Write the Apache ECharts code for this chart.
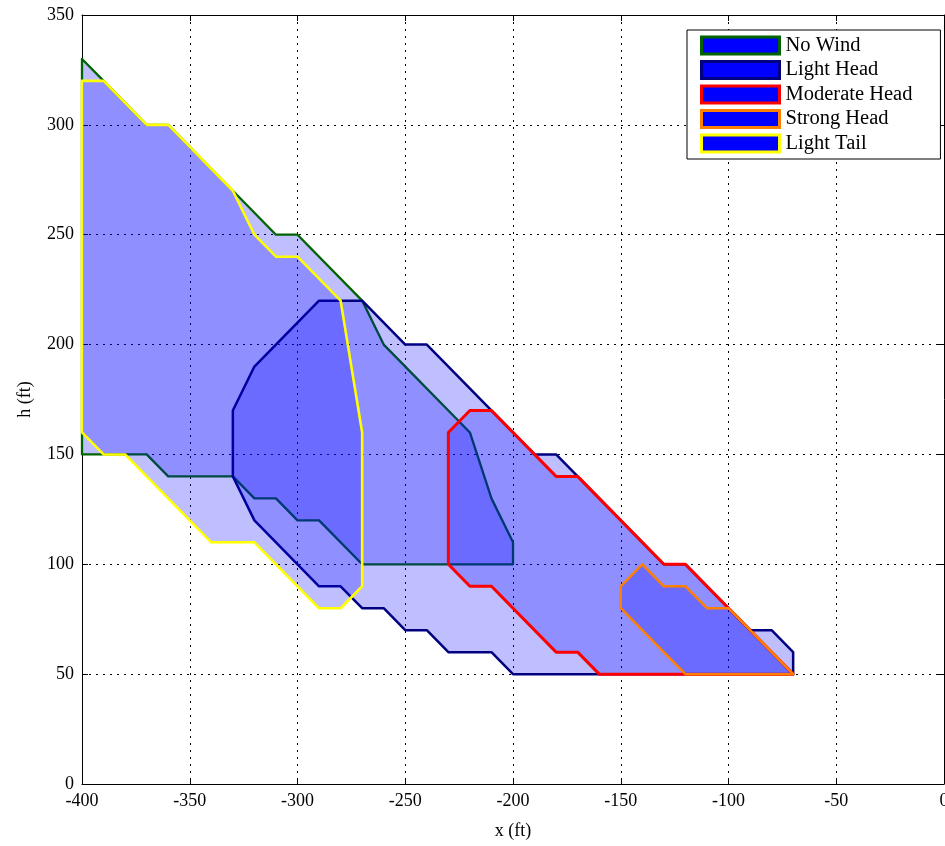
<!DOCTYPE html>
<html><head><meta charset="utf-8">
<script src="https://cdn.jsdelivr.net/npm/echarts@6/dist/echarts.min.js"></script>
<style>html,body{margin:0;padding:0;background:#fff}#c{width:945px;height:846px}</style>
</head><body><div id="c"></div>
<script>
const seriesNames = ['No Wind','Light Head','Moderate Head','Strong Head','Light Tail'];
const lineColors = ['#006400','#000080','#ff0000','#ff8000','#ffff00'];
const noWind = [[-400,330],[-390,320],[-370,300],[-360,300],[-330,270],[-310,250],[-300,250],[-270,220],[-260,200],[-220,160],[-210,130],[-200,110],[-200,100],[-270,100],[-290,120],[-300,120],[-310,130],[-320,130],[-330,140],[-360,140],[-370,150],[-400,150]];
const lightHead = [[-330,170],[-320,190],[-290,220],[-270,220],[-250,200],[-240,200],[-190,150],[-180,150],[-130,100],[-120,100],[-90,70],[-80,70],[-70,60],[-70,50],[-200,50],[-210,60],[-230,60],[-240,70],[-250,70],[-260,80],[-270,80],[-280,90],[-290,90],[-320,120],[-330,140]];
const moderateHead = [[-230,160],[-220,170],[-210,170],[-180,140],[-170,140],[-130,100],[-120,100],[-70,50],[-160,50],[-170,60],[-180,60],[-210,90],[-220,90],[-230,100]];
const strongHead = [[-150,90],[-140,100],[-130,90],[-120,90],[-110,80],[-100,80],[-70,50],[-120,50],[-150,80]];
const lightTail = [[-400,320],[-390,320],[-370,300],[-360,300],[-330,270],[-320,250],[-310,240],[-300,240],[-280,220],[-270,160],[-270,90],[-280,80],[-290,80],[-320,110],[-340,110],[-380,150],[-390,150],[-400,160]];
const polygons = [noWind, lightHead, moderateHead, strongHead, lightTail];
const xTicks = [-400,-350,-300,-250,-200,-150,-100,-50,0];
const yTicks = [0,50,100,150,200,250,300,350];

const lineWidths = [2.3,2.5,3,2.5,2.6];
const font = 'Liberation Serif, Times New Roman, serif';
const chart = echarts.init(document.getElementById('c'), null, {renderer:'canvas'});

function makeSeries(i){
  const pts = polygons[i];
  return {
    name: seriesNames[i], type:'custom', xAxisIndex:0, yAxisIndex:0,
    data: pts, z: 2+i,
    renderItem: function(params, api){
      if (params.dataIndex !== 0) return null;
      const p = pts.map(v => api.coord(v));
      return {type:'polygon', shape:{points:p},
        style:{fill:'rgba(0,0,255,0.25)', stroke:lineColors[i], lineWidth: lineWidths[i], lineJoin:'round'}};
    },
    encode:{x:0,y:1}
  };
}
const axisCommon = {
  axisLine:{show:true,onZero:false,lineStyle:{color:'#000',width:1}},
  axisTick:{show:true,inside:true,length:6,lineStyle:{color:'#000'}},
  axisLabel:{color:'#000',fontFamily:font,fontSize:18},
  splitLine:{show:false}
};
chart.setOption({
  animation:false,
  backgroundColor:'#fff',
  grid:{left:82,right:1,top:15,bottom:62,containLabel:false,outerBoundsMode:'none'},
  legend:{
    orient:'vertical', left:687, top:30,
    padding:[5,28,5,13], itemGap:3.5, itemWidth:78, itemHeight:17,
    backgroundColor:'#fff', borderColor:'#000', borderWidth:1,
    textStyle:{fontFamily:font,fontSize:20.5,color:'#000',padding:[0,0,0,1]},
    data: seriesNames.map((n,i)=>({name:n, icon:'rect', itemStyle:{color:'#0000ff',borderColor:lineColors[i],borderWidth:3}})),
    selectedMode:false
  },
  xAxis:[
    Object.assign({}, axisCommon, {type:'value', min:-400, max:0, interval:50, position:'bottom',
      name:'x (ft)', nameLocation:'middle', nameGap:38,
      nameTextStyle:{fontFamily:font,fontSize:18,color:'#000'},
      axisLabel:{color:'#000',fontFamily:font,fontSize:18,margin:8},
      splitLine:{show:true,lineStyle:{color:'#000',type:[2,5],width:1}}}),
    Object.assign({}, axisCommon, {type:'value', min:-400, max:0, interval:50, position:'top', axisLabel:{show:false}})
  ],
  yAxis:[
    Object.assign({}, axisCommon, {type:'value', min:0, max:350, interval:50, position:'left',
      name:'h (ft)', nameLocation:'middle', nameGap:48, nameRotate:90,
      nameTextStyle:{fontFamily:font,fontSize:18,color:'#000'},
      axisLabel:{color:'#000',fontFamily:font,fontSize:18,margin:8},
      splitLine:{show:true,lineStyle:{color:'#000',type:[2,5],width:1}}}),
    Object.assign({}, axisCommon, {type:'value', min:0, max:350, interval:50, position:'right', axisLabel:{show:false}})
  ],
  series: [0,1,2,3,4].map(makeSeries)
});
</script></body></html>
